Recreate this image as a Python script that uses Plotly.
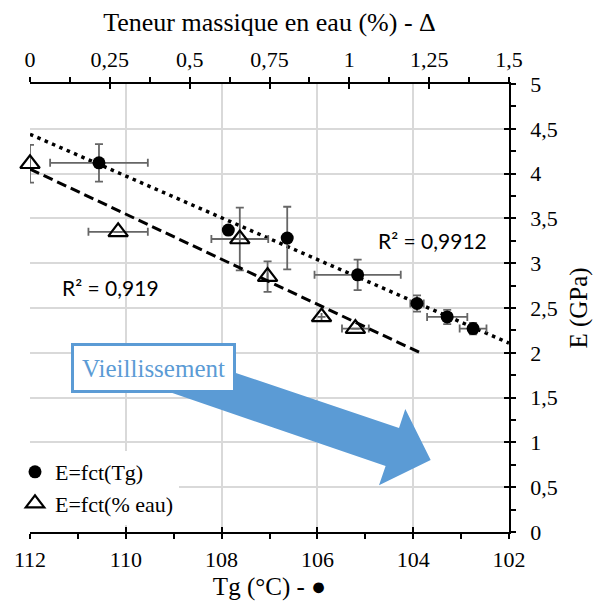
import numpy as np
import plotly.graph_objects as go

# ---------------- data ----------------
# E = fct(Tg)  (filled circles, bottom axis)
tg = [110.56, 107.86, 106.63, 105.16, 103.92, 103.29, 102.75]
e_tg = [4.12, 3.37, 3.28, 2.87, 2.55, 2.40, 2.27]
tg_err = [1.02, 0, 0, 0.90, 0.14, 0.42, 0.28]
e_tg_err = [0.21, 0, 0.35, 0.17, 0.09, 0.08, 0.065]

# E = fct(% eau)  (open triangles, top axis)
eau = [0.0, 0.276, 0.657, 0.744, 0.913, 1.019]
e_eau = [4.11, 3.35, 3.27, 2.85, 2.40, 2.27]
eau_err = [0, 0.093, 0.089, 0, 0, 0.042]
e_eau_err = [0.21, 0, 0.35, 0.17, 0, 0]

# axes ticks / labels
tg_ticks = [112, 110, 108, 106, 104, 102]
tg_labels = ["112", "110", "108", "106", "104", "102"]
eau_ticks = [0, 0.25, 0.5, 0.75, 1, 1.25, 1.5]
eau_labels = ["0", "0,25", "0,5", "0,75", "1", "1,25", "1,5"]
e_ticks = [0, 0.5, 1, 1.5, 2, 2.5, 3, 3.5, 4, 4.5, 5]
e_labels = ["0", "0,5", "1", "1,5", "2", "2,5", "3", "3,5", "4", "4,5", "5"]

r2_tg_text = "R² = 0,9912"
r2_eau_text = "R² = 0,919"
series_names = ["E=fct(Tg)", "E=fct(% eau)"]

# ---------------- styling ----------------
W, H = 593, 601
ML, MR, MT, MB = 30, 84, 84, 69
SERIF = "Liberation Serif"
SANS = "Lato"
BLUE = "#5B9BD5"
GRID = "#d9d9d9"
ERR = "#666666"
TICKF = dict(family=SERIF, size=22, color="black")
TITLEF = dict(family=SERIF, size=25, color="black")

PW, PH = W - ML - MR, H - MT - MB


def px2paper(x, y):
    return (x - ML) / PW, (H - MB - y) / PH


# ---------------- trend lines ----------------
p_tg = np.polyfit(tg, e_tg, 1)
x_fit_tg = np.array([tg_ticks[0], tg_ticks[-1]], dtype=float)
y_fit_tg = np.polyval(p_tg, x_fit_tg)

p_eau = np.polyfit(eau, e_eau, 1)
x_fit_eau = np.array([min(eau), max(eau) + 0.2])
y_fit_eau = np.polyval(p_eau, x_fit_eau)

fig = go.Figure()

fig.add_trace(go.Scatter(
    x=x_fit_tg, y=y_fit_tg, mode="lines", xaxis="x", yaxis="y",
    line=dict(color="black", width=3.5, dash="3.5px,4.5px"),
    showlegend=False, hoverinfo="skip"))

fig.add_trace(go.Scatter(
    x=tg, y=e_tg, mode="markers", name=series_names[0], xaxis="x", yaxis="y",
    marker=dict(symbol="circle", size=13, color="black"), cliponaxis=False,
    error_x=dict(type="data", array=tg_err, color=ERR, thickness=1.8, width=4),
    error_y=dict(type="data", array=e_tg_err, color=ERR, thickness=1.8, width=4)))

fig.add_trace(go.Scatter(
    x=eau, y=e_eau, mode="markers", name=series_names[1], xaxis="x2", yaxis="y",
    marker=dict(symbol="triangle-up-open", size=17, color="black",
                line=dict(width=2.2, color="black")), cliponaxis=False,
    error_x=dict(type="data", array=eau_err, color=ERR, thickness=1.8, width=4),
    error_y=dict(type="data", array=e_eau_err, color=ERR, thickness=1.8, width=4)))

fig.add_trace(go.Scatter(
    x=x_fit_eau, y=y_fit_eau, mode="lines", xaxis="x2", yaxis="y",
    line=dict(color="black", width=3, dash="10px,5px"),
    showlegend=False, hoverinfo="skip"))

# dummy traces to activate the inner-tick axes (cross ticks)
fig.add_trace(go.Scatter(x=[None], y=[None], xaxis="x3", yaxis="y2",
                         showlegend=False, hoverinfo="skip"))
fig.add_trace(go.Scatter(x=[None], y=[None], xaxis="x4", yaxis="y2",
                         showlegend=False, hoverinfo="skip"))

common_tick = dict(ticklen=5, tickwidth=1.5, tickcolor="black")

fig.update_layout(
    width=W, height=H,
    margin=dict(l=ML, r=MR, t=MT, b=MB, pad=0, autoexpand=False),
    paper_bgcolor="white", plot_bgcolor="white",
    separators=", ",
    hovermode=False,
    xaxis=dict(
        domain=[0, 1], anchor="y", side="bottom", automargin=False,
        range=[tg_ticks[0], tg_ticks[-1]],
        tickmode="array", tickvals=tg_ticks, ticktext=tg_labels,
        ticks="outside", **common_tick,
        minor=dict(dtick=1, tick0=0, ticks="outside", ticklen=5, tickwidth=1.5,
                   tickcolor="black", showgrid=False),
        showline=True, linecolor="black", linewidth=1.5,
        showgrid=True, gridcolor=GRID, gridwidth=1.5, zeroline=False,
        tickfont=TICKF, ticklabelstandoff=2,
        title=dict(text="Tg (°C) - ●", font=TITLEF, standoff=6),
    ),
    xaxis2=dict(
        overlaying="x", anchor="y", side="top", automargin=False,
        range=[eau_ticks[0], eau_ticks[-1]],
        tickmode="array", tickvals=eau_ticks, ticktext=eau_labels,
        ticks="outside", **common_tick,
        minor=dict(dtick=0.125, tick0=0, ticks="outside", ticklen=5, tickwidth=1.5,
                   tickcolor="black", showgrid=False),
        showline=True, linecolor="black", linewidth=1.5,
        showgrid=False, zeroline=False,
        tickfont=TICKF, ticklabelstandoff=1,
        title=dict(text="Teneur massique en eau (%) - Δ",
                   font=dict(family=SERIF, size=26, color="black"), standoff=8),
    ),
    xaxis3=dict(
        overlaying="x", anchor="y", side="bottom", automargin=False,
        range=[tg_ticks[0], tg_ticks[-1]],
        tickmode="array", tickvals=tg_ticks, ticks="inside", **common_tick,
        showticklabels=False, showline=False, showgrid=False, zeroline=False,
    ),
    xaxis4=dict(
        overlaying="x", anchor="y", side="top", automargin=False,
        range=[eau_ticks[0], eau_ticks[-1]],
        tickmode="array", tickvals=eau_ticks, ticks="inside", **common_tick,
        showticklabels=False, showline=False, showgrid=False, zeroline=False,
    ),
    yaxis=dict(
        domain=[0, 1], anchor="x", side="right", automargin=False,
        range=[e_ticks[0], e_ticks[-1]],
        tickmode="array", tickvals=e_ticks, ticktext=e_labels,
        ticks="outside", **common_tick,
        minor=dict(dtick=0.25, tick0=0, ticks="outside", ticklen=5, tickwidth=1.5,
                   tickcolor="black", showgrid=False),
        showline=True, linecolor="black", linewidth=1.5,
        showgrid=True, gridcolor=GRID, gridwidth=1.5, zeroline=False,
        tickfont=TICKF, ticklabelstandoff=10,
        title=dict(text="E (GPa)", font=TITLEF, standoff=22),
    ),
    yaxis2=dict(
        overlaying="y", anchor="x", side="right", automargin=False,
        range=[e_ticks[0], e_ticks[-1]],
        tickmode="array", tickvals=e_ticks, ticks="inside", **common_tick,
        showticklabels=False, showline=False, showgrid=False, zeroline=False,
    ),
    legend=dict(
        x=px2paper(15, 0)[0], y=px2paper(0, 451)[1], xanchor="left", yanchor="top",
        bgcolor="white", borderwidth=0, font=dict(family=SERIF, size=22, color="black"),
        itemwidth=30, tracegroupgap=0,
    ),
)

# R² labels
ax, ay = px2paper(432, 240)
fig.add_annotation(x=ax, y=ay, xref="paper", yref="paper", text=r2_tg_text,
                   xanchor="center", yanchor="middle",
                   showarrow=False, font=dict(family=SANS, size=21, color="black"))
ax, ay = px2paper(110, 287)
fig.add_annotation(x=ax, y=ay, xref="paper", yref="paper", text=r2_eau_text,
                   xanchor="center", yanchor="middle",
                   showarrow=False, font=dict(family=SANS, size=21, color="black"))

# big "ageing" arrow (decoration)
arrow_px = [(160, 347.4), (399, 427.9), (405.3, 409), (430.7, 460),
            (379, 485.3), (385.6, 466.1), (160, 388.7)]
pts = [px2paper(x, y) for x, y in arrow_px]
path = "M " + " L ".join(f"{x:.4f},{y:.4f}" for x, y in pts) + " Z"
fig.add_shape(type="path", path=path, xref="paper", yref="paper",
              fillcolor=BLUE, line=dict(width=0), layer="above")

bx, by = px2paper(153.3, 368.3)
fig.add_annotation(x=bx, y=by, xref="paper", yref="paper", text="Vieillissement",
                   xanchor="center", yanchor="middle",
                   showarrow=False, font=dict(family=SERIF, size=25, color=BLUE),
                   bgcolor="white", bordercolor=BLUE, borderwidth=3, borderpad=2,
                   width=155, height=40)

fig.write_html("out.html", config={"displayModeBar": False},
               post_script="document.body.style.margin='0';")
